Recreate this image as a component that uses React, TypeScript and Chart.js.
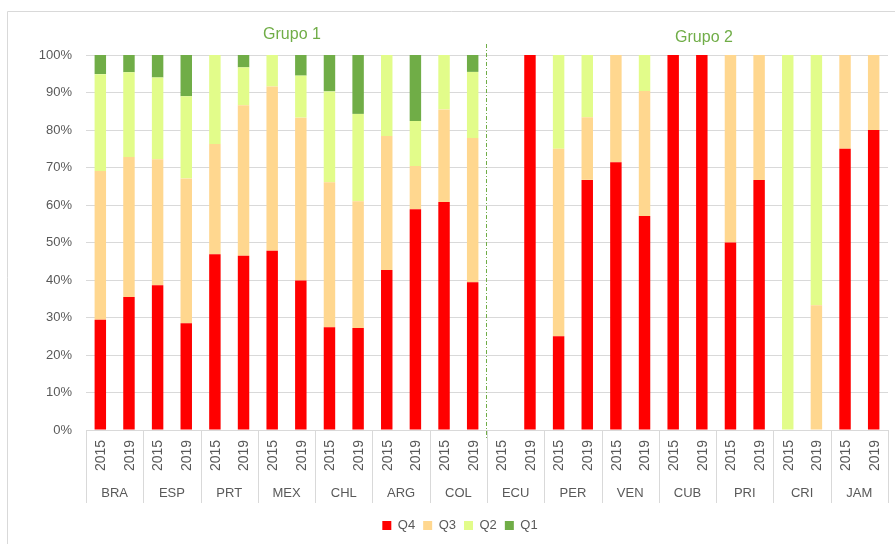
import React, { useEffect, useRef } from "react";
import { Chart, registerables } from "chart.js";

Chart.register(...registerables);

const countries = ["BRA", "ESP", "PRT", "MEX", "CHL", "ARG", "COL", "ECU", "PER", "VEN", "CUB", "PRI", "CRI", "JAM"];
const years = ["2015", "2019"];
const yTicks = [0, 10, 20, 30, 40, 50, 60, 70, 80, 90, 100];
const groupTitles = ["Grupo 1", "Grupo 2"];

const q4 = [29.4, 35.5, 38.6, 28.5, 46.9, 46.5, 47.8, 39.9, 27.4, 27.2, 42.7, 58.9, 60.8, 39.4, 0, 100, 25, 66.7, 71.4, 57.1, 100, 100, 50, 66.7, 0, 0, 75, 80];
const q3 = [39.7, 37.3, 33.6, 38.6, 29.4, 40.1, 43.8, 43.4, 38.7, 33.8, 35.7, 11.5, 24.7, 38.5, 0, 0, 50, 16.7, 28.6, 33.3, 0, 0, 50, 33.3, 0, 33.3, 25, 20];
const q2 = [25.8, 22.6, 21.8, 21.9, 23.7, 10.1, 8.4, 11.2, 24.2, 23.3, 21.6, 12.0, 14.5, 17.6, 0, 0, 25, 16.6, 0, 9.6, 0, 0, 0, 0, 100, 66.7, 0, 0];
const q1 = [5.1, 4.6, 6.0, 11.0, 0, 3.3, 0, 5.5, 9.7, 15.7, 0, 17.6, 0, 4.5, 0, 0, 0, 0, 0, 0, 0, 0, 0, 0, 0, 0, 0, 0];

const FONT = "'Liberation Sans', Arial, sans-serif";
const TEXT = "#595959";
const GRID = "#d9d9d9";

const labels = countries.flatMap((c) => years.map((y) => `${c} ${y}`));

const decorPlugin = {
  id: "decor",
  beforeDraw(chart: any) {
    const { ctx } = chart;
    ctx.save();
    ctx.strokeStyle = GRID;
    ctx.lineWidth = 1;
    ctx.beginPath();
    ctx.moveTo(7.5, chart.height);
    ctx.lineTo(7.5, 11.5);
    ctx.lineTo(chart.width, 11.5);
    ctx.stroke();
    ctx.restore();
  },
  afterDraw(chart: any) {
    const { ctx, chartArea } = chart;
    const x = chart.scales.x;
    const nY = years.length;
    ctx.save();
    ctx.strokeStyle = GRID;
    ctx.lineWidth = 1;
    const bottom = chartArea.bottom;
    const sepEnd = bottom + 73;
    const edge = (i: number) => {
      if (i <= 0) return chartArea.left;
      if (i >= labels.length) return chartArea.right;
      return (x.getPixelForValue(i - 1) + x.getPixelForValue(i)) / 2;
    };
    ctx.beginPath();
    for (let c = 0; c <= countries.length; c++) {
      const px = Math.round(edge(c * nY)) + 0.5;
      ctx.moveTo(px, bottom);
      ctx.lineTo(px, sepEnd);
    }
    ctx.stroke();
    ctx.fillStyle = TEXT;
    ctx.font = `14px ${FONT}`;
    ctx.textAlign = "center";
    ctx.textBaseline = "middle";
    labels.forEach((_, i) => {
      const px = x.getPixelForValue(i);
      ctx.save();
      ctx.translate(px, bottom + 25.5);
      ctx.rotate(-Math.PI / 2);
      ctx.fillText(years[i % nY], 0, 1);
      ctx.restore();
    });
    ctx.font = `13px ${FONT}`;
    countries.forEach((c, ci) => {
      const px = (edge(ci * nY) + edge((ci + 1) * nY)) / 2;
      ctx.fillText(c, px, bottom + 63);
    });
    const dx = Math.round(edge(7 * nY)) - 0.5;
    ctx.strokeStyle = "#70AD47";
    ctx.setLineDash([4, 2, 1, 2]);
    ctx.beginPath();
    ctx.moveTo(dx, chartArea.top - 11);
    ctx.lineTo(dx, bottom + 8);
    ctx.stroke();
    ctx.setLineDash([]);
    ctx.fillStyle = "#70AD47";
    ctx.font = `16px ${FONT}`;
    ctx.fillText(groupTitles[0], chartArea.left + 206, chartArea.top - 20);
    ctx.fillText(groupTitles[1], chartArea.left + 618, chartArea.top - 17);
    ctx.restore();
  },
};

export default function App() {
  const ref = useRef<HTMLCanvasElement>(null);
  useEffect(() => {
    if (!ref.current) return;
    const chart = new Chart(ref.current, {
      type: "bar",
      data: {
        labels,
        datasets: [
          { label: "Q4", data: q4, backgroundColor: "#FF0000" },
          { label: "Q3", data: q3, backgroundColor: "#FFD78F" },
          { label: "Q2", data: q2, backgroundColor: "#E2FC8A" },
          { label: "Q1", data: q1, backgroundColor: "#70AD47" },
        ],
      },
      options: {
        animation: false,
        responsive: true,
        maintainAspectRatio: false,
        datasets: { bar: { categoryPercentage: 1, barPercentage: 0.4, borderWidth: 0 } } as any,
        layout: { padding: { left: 32, right: 7, top: 55, bottom: 2 } },
        plugins: {
          tooltip: { enabled: false },
          title: { display: false },
          legend: {
            position: "bottom",
            labels: {
              boxWidth: 9,
              boxHeight: 9,
              padding: 8,
              color: TEXT,
              font: { family: FONT, size: 13 },
            },
          },
        },
        scales: {
          x: {
            stacked: true,
            ticks: { display: false },
            grid: { display: false },
            border: { display: false },
            afterFit: (s: any) => {
              s.height = 81;
            },
          },
          y: {
            stacked: true,
            min: 0,
            max: 100,
            afterBuildTicks: (s: any) => {
              s.ticks = yTicks.map((v) => ({ value: v }));
            },
            ticks: {
              padding: 14,
              color: TEXT,
              font: { family: FONT, size: 13 },
              callback: (v: any) => `${v}%`,
            },
            grid: { color: GRID, drawTicks: false },
            border: { display: false },
            afterFit: (s: any) => {
              s.width = 54;
            },
          },
        },
      },
      plugins: [decorPlugin],
    });
    return () => chart.destroy();
  }, []);
  return (
    <div style={{ position: "absolute", left: 0, top: 0, width: 895, height: 544 }}>
      <canvas ref={ref} />
    </div>
  );
}
